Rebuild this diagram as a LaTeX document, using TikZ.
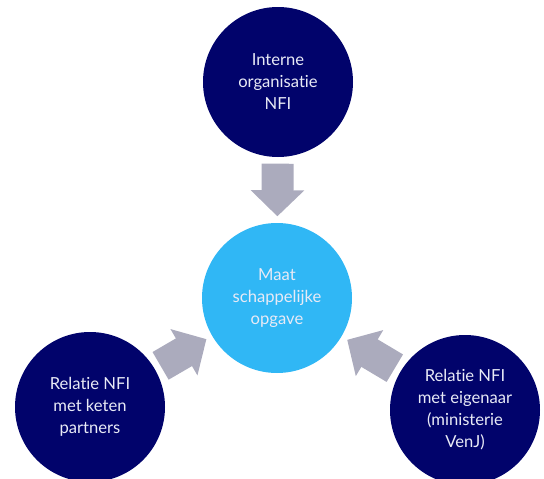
\documentclass[tikz,border=0pt]{standalone}
\usepackage{fontspec}
\setmainfont[Ligatures=NoCommon]{Lato}
\usepackage{tikz}
\usetikzlibrary{arrows.meta}
\usetikzlibrary{positioning}
\definecolor{navy}{RGB}{1,3,107}
\definecolor{skyblue}{RGB}{48,183,245}
\definecolor{arrowgrey}{RGB}{171,171,189}
\definecolor{paletext}{RGB}{232,234,246}
\begin{document}
\begin{tikzpicture}
				[x=1pt,y=-1pt,every node/.style={circle,fill=navy,text=paletext,minimum size=150pt,inner sep=0pt,align=center,font=\fontsize{16.6}{22}\selectfont}]
				\useasboundingbox (0,0) rectangle (544,479);
				\node (org) at (278,82) {Interne\\organisatie\\NFI};
				\node[fill=skyblue] (opgave) at (277,298)  {Maat\\schappelijke\\opgave};
				\node (keten)  at (90,407) {Relatie NFI\\met keten\\partners};
				\node (eigenaar) at (465,410)  {Relatie NFI\\met eigenaar\\(ministerie\\VenJ)};
				
				\foreach \from in 
					{org, keten, eigenaar}
				\draw[draw=arrowgrey,line width=32pt,-{Triangle[width=52pt,length=26pt]},shorten <=6.5pt,shorten >=6.5pt] (\from) -- (opgave);
			\end{tikzpicture}
\end{document}
